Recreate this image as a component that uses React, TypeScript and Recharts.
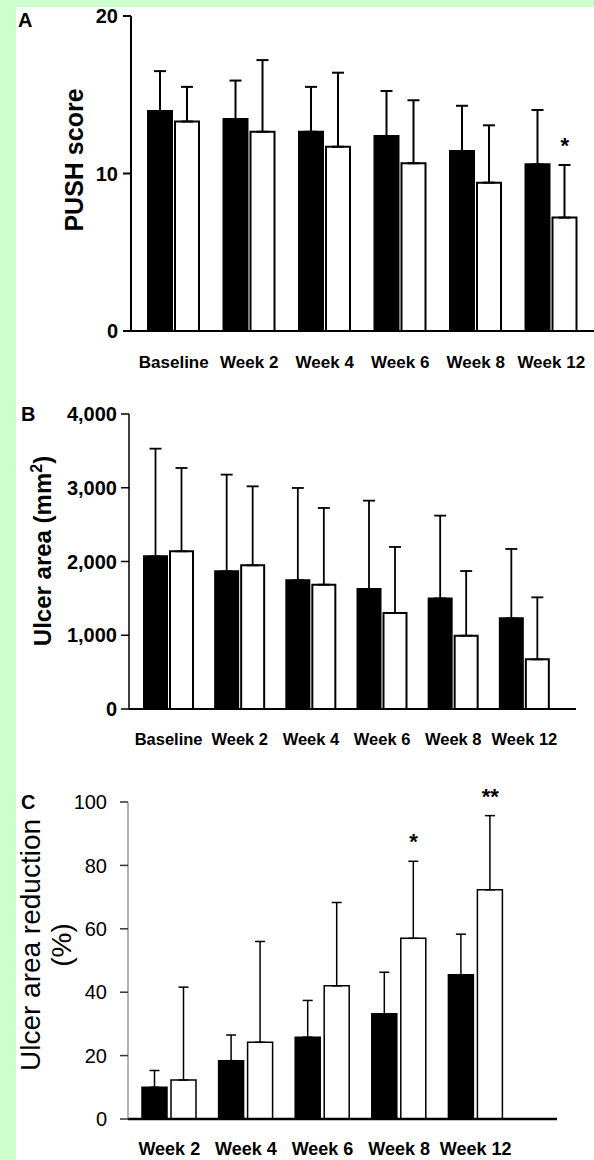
import React from "react";
import { BarChart, Bar, XAxis, YAxis, ErrorBar, ReferenceDot } from "recharts";

// panel A - PUSH score
const weeksAB = ["Baseline", "Week 2", "Week 4", "Week 6", "Week 8", "Week 12"];
const pushBlack = [13.97, 13.46, 12.65, 12.38, 11.43, 10.58];
const pushBlackSd = [2.53, 2.44, 2.85, 2.86, 2.87, 3.45];
const pushWhite = [13.3, 12.65, 11.7, 10.65, 9.42, 7.2];
const pushWhiteSd = [2.2, 4.55, 4.7, 4.0, 3.64, 3.34];
const pushSig = ["", "", "", "", "", "*"];
const pushTicks = [0, 10, 20];

// panel B - ulcer area
const areaBlack = [2070, 1867, 1745, 1627, 1500, 1229];
const areaBlackSd = [1460, 1311, 1252, 1198, 1122, 941];
const areaWhite = [2138, 1948, 1686, 1302, 994, 673];
const areaWhiteSd = [1130, 1071, 1040, 895, 877, 841];
const areaTicks = [0, 1000, 2000, 3000, 4000];

// panel C - ulcer area reduction
const weeksC = ["Week 2", "Week 4", "Week 6", "Week 8", "Week 12"];
const redBlack = [10, 18.4, 25.8, 33.2, 45.5];
const redBlackSd = [5.3, 8.1, 11.6, 13.1, 12.8];
const redWhite = [12.3, 24.2, 42, 57, 72.3];
const redWhiteSd = [29.3, 31.8, 26.3, 24.3, 23.4];
const redSig = ["", "", "", "*", "**"];
const redTicks = [0, 20, 40, 60, 80, 100];

const FONT = "'Liberation Sans', Arial, sans-serif";

function rows(cats: string[], b: number[], bs: number[], w: number[], ws: number[], sig?: string[]) {
  return cats.map((c, i) => ({
    cat: c,
    black: b[i],
    blackErr: [0, bs[i]],
    white: w[i],
    whiteErr: [0, ws[i]],
    top: w[i] + ws[i],
    sig: sig ? sig[i] : "",
  }));
}

const dataA = rows(weeksAB, pushBlack, pushBlackSd, pushWhite, pushWhiteSd, pushSig);
const dataB = rows(weeksAB, areaBlack, areaBlackSd, areaWhite, areaWhiteSd);
const dataC = rows(weeksC, redBlack, redBlackSd, redWhite, redWhiteSd, redSig);

// star drawn just above the white bar's error cap
const starLabel = (text: string, dx: number, dy: number) => (props: any) => {
  const vb = props.viewBox || {};
  return (
    <text x={vb.x + dx} y={vb.y + dy} textAnchor="middle" fontSize={22} fontWeight="bold" fill="#000" fontFamily={FONT}>
      {text}
    </text>
  );
};

const rotated = (cx: number, cy: number): React.CSSProperties => ({
  position: "absolute",
  left: cx,
  top: cy,
  transform: "translate(-50%, -50%) rotate(-90deg)",
  whiteSpace: "nowrap",
  textAlign: "center",
});

export default function App() {
  return (
    <div
      style={{
        position: "absolute",
        left: 0,
        top: 0,
        width: 594,
        height: 1160,
        background: "#ccffcc",
        overflow: "hidden",
        fontFamily: FONT,
        color: "#000",
      }}
    >
      <div style={{ position: "absolute", left: 16, top: 7, right: 0, bottom: 0, background: "#fff" }} />

      {/* A */}
      <div style={{ position: "absolute", left: 0, top: 0 }}>
        <BarChart width={594} height={376} data={dataA} margin={{ top: 16, right: 0, bottom: 0, left: 0 }} barSize={24} barGap={3}>
          <XAxis
            dataKey="cat"
            interval={0}
            tickLine={false}
            tickSize={0}
            tickMargin={25}
            height={45}
            padding={{ left: 5, right: 5 }}
            axisLine={{ stroke: "#000", strokeWidth: 2 }}
            tick={{ fontSize: 17, fontWeight: "bold", fill: "#000" }}
          />
          <YAxis
            width={131}
            domain={[0, 20]}
            ticks={pushTicks}
            tickSize={8}
            tickMargin={5}
            axisLine={{ stroke: "#000", strokeWidth: 2 }}
            tickLine={{ stroke: "#000", strokeWidth: 2 }}
            tick={{ fontSize: 20, fontWeight: "bold", fill: "#000" }}
          />
          <Bar dataKey="black" fill="#000" stroke="#000" strokeWidth={2} isAnimationActive={false}>
            <ErrorBar dataKey="blackErr" width={6} stroke="#000" strokeWidth={2} direction="y" isAnimationActive={false} />
          </Bar>
          <Bar dataKey="white" fill="#fff" stroke="#000" strokeWidth={2} isAnimationActive={false}>
            <ErrorBar dataKey="whiteErr" width={6} stroke="#000" strokeWidth={2} direction="y" isAnimationActive={false} />
          </Bar>
          {dataA.filter((d) => d.sig).map((d) => (
            <ReferenceDot key={d.cat} x={d.cat} y={d.top} r={0} fill="none" stroke="none" label={starLabel(d.sig, 13.5, -12)} />
          ))}
        </BarChart>
      </div>

      {/* B */}
      <div style={{ position: "absolute", left: 0, top: 376 }}>
        <BarChart width={594} height={378} data={dataB} margin={{ top: 38, right: 18, bottom: 0, left: 0 }} barSize={23} barGap={3}>
          <XAxis
            dataKey="cat"
            interval={0}
            tickLine={false}
            tickSize={0}
            tickMargin={24}
            height={45}
            padding={{ left: 4, right: 16 }}
            axisLine={{ stroke: "#000", strokeWidth: 2 }}
            tick={{ fontSize: 16.5, fontWeight: "bold", fill: "#000" }}
          />
          <YAxis
            width={129}
            domain={[0, 4000]}
            ticks={areaTicks}
            tickFormatter={(v: number) => v.toLocaleString("en-US")}
            tickSize={8}
            tickMargin={4}
            axisLine={{ stroke: "#000", strokeWidth: 1.5 }}
            tickLine={{ stroke: "#000", strokeWidth: 1.5 }}
            tick={{ fontSize: 20, fontWeight: "bold", fill: "#000" }}
          />
          <Bar dataKey="black" fill="#000" stroke="#000" strokeWidth={2} isAnimationActive={false}>
            <ErrorBar dataKey="blackErr" width={6} stroke="#000" strokeWidth={1.8} direction="y" isAnimationActive={false} />
          </Bar>
          <Bar dataKey="white" fill="#fff" stroke="#000" strokeWidth={2} isAnimationActive={false}>
            <ErrorBar dataKey="whiteErr" width={6} stroke="#000" strokeWidth={1.8} direction="y" isAnimationActive={false} />
          </Bar>
        </BarChart>
      </div>

      {/* C */}
      <div style={{ position: "absolute", left: 0, top: 754 }}>
        <BarChart width={594} height={406} data={dataC} margin={{ top: 48, right: 37, bottom: 0, left: 0 }} barSize={25} barGap={4}>
          <XAxis
            dataKey="cat"
            interval={0}
            tickLine={false}
            tickSize={0}
            tickMargin={23}
            height={41}
            padding={{ left: 3, right: 43 }}
            axisLine={{ stroke: "#000", strokeWidth: 2.5 }}
            tick={{ fontSize: 18, fontWeight: "bold", fill: "#000" }}
          />
          <YAxis
            width={128}
            domain={[0, 100]}
            ticks={redTicks}
            tickSize={8}
            tickMargin={13}
            axisLine={{ stroke: "#666", strokeWidth: 1 }}
            tickLine={{ stroke: "#333", strokeWidth: 1.5 }}
            tick={{ fontSize: 20, fill: "#000" }}
          />
          <Bar dataKey="black" fill="#000" stroke="#000" strokeWidth={1.5} isAnimationActive={false}>
            <ErrorBar dataKey="blackErr" width={5} stroke="#000" strokeWidth={1.5} direction="y" isAnimationActive={false} />
          </Bar>
          <Bar dataKey="white" fill="#fff" stroke="#000" strokeWidth={1.5} isAnimationActive={false}>
            <ErrorBar dataKey="whiteErr" width={5} stroke="#000" strokeWidth={1.5} direction="y" isAnimationActive={false} />
          </Bar>
          {dataC.filter((d) => d.sig).map((d) => (
            <ReferenceDot key={d.cat} x={d.cat} y={d.top} r={0} fill="none" stroke="none" label={starLabel(d.sig, 14.5, -12)} />
          ))}
        </BarChart>
      </div>

      {/* panel letters and axis titles */}
      <div style={{ position: "absolute", left: 18, top: 10, fontSize: 20, fontWeight: "bold", lineHeight: "20px" }}>A</div>
      <div style={{ position: "absolute", left: 21, top: 404, fontSize: 20, fontWeight: "bold", lineHeight: "20px" }}>B</div>
      <div style={{ position: "absolute", left: 21, top: 792, fontSize: 20, fontWeight: "bold", lineHeight: "20px" }}>C</div>

      <div style={{ ...rotated(74, 160), fontSize: 25, fontWeight: "bold" }}>PUSH score</div>
      <div style={{ ...rotated(42, 551), fontSize: 24, fontWeight: "bold" }}>
        Ulcer area (mm<sup style={{ fontSize: 16 }}>2</sup>)
      </div>
      <div style={{ ...rotated(46, 945), fontSize: 28, lineHeight: "31px" }}>
        Ulcer area reduction
        <br />
        (%)
      </div>
    </div>
  );
}
